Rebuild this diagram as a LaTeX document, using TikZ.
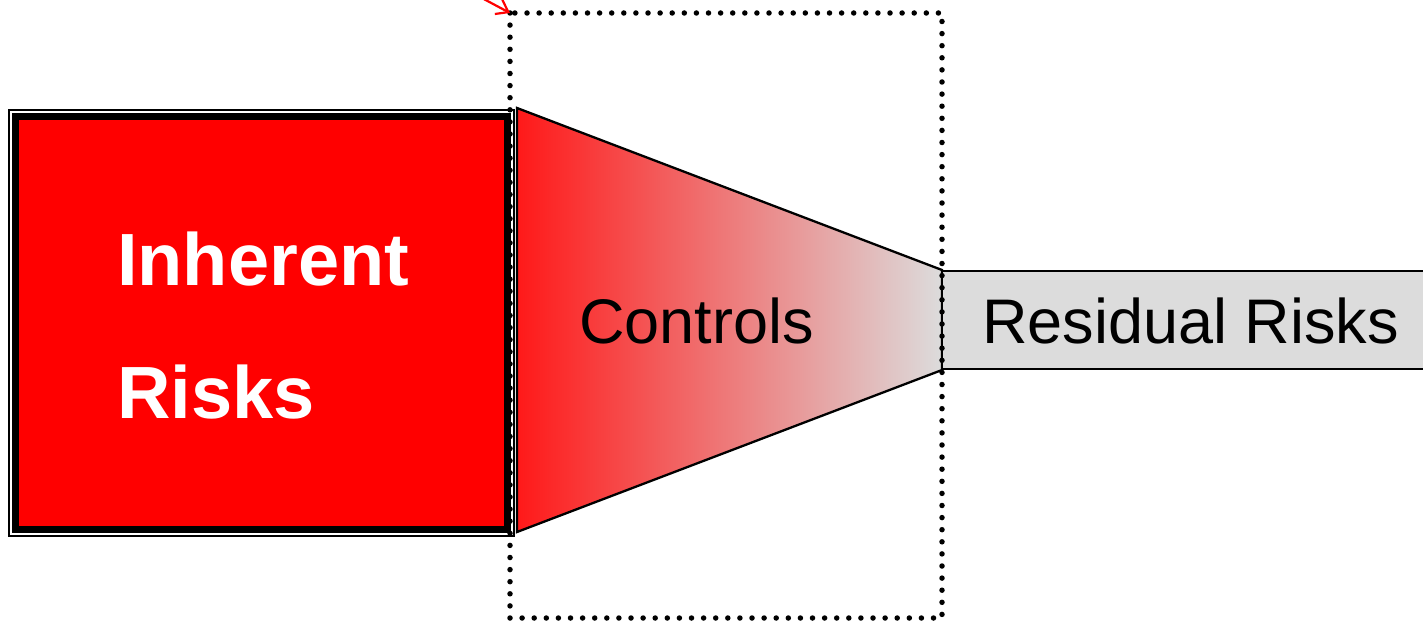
\documentclass[tikz,border=0pt]{standalone}
\usepackage{fontspec}
\setmainfont{Liberation Sans}
\usetikzlibrary{arrows.meta}
\definecolor{riskred}{RGB}{255,0,0}
\definecolor{shadered}{RGB}{255,25,25}
\definecolor{lightgr}{RGB}{220,220,220}
\tikzset{
  px/.style={x=1pt,y=-1pt},
  bigtext/.style={font=\fontsize{74}{133}\selectfont\bfseries, text=white, inner sep=0pt, anchor=base west},
  midtext/.style={font=\fontsize{63}{70}\selectfont, text=black, inner sep=0pt, anchor=base west},
  dotframe/.style={draw=black, line width=5.5pt, line cap=round, dash pattern=on 0pt off 12.1pt},
}
\begin{document}
\begin{tikzpicture}[px]
\useasboundingbox (0,0) rectangle (1423,623);
% inherent risks box
\draw[line width=1.5pt] (9,110) rectangle (514,536);
\draw[line width=7pt, fill=riskred] (15.5,116.5) rectangle (507.5,529.5);
\node[bigtext] (inh1) at (117,285) {Inherent};
\node[bigtext] (inh2) at (117,418) {Risks};
% controls trapezoid
\shade[left color=shadered, right color=lightgr] (517,108) -- (942,270) -- (942,370) -- (517,532) -- cycle;
\draw[line width=2.3pt, line join=miter] (517,108) -- (942,270) -- (942,370) -- (517,532) -- cycle;
\node[midtext] (ctl) at (579,343) {Controls};
% residual
\draw[line width=2.3pt, fill=lightgr] (942,271) rectangle (1440,369);
\node[midtext] (res) at (982,343) {Residual Risks};
% dotted frame
\coordinate (f1) at (510,13);
\coordinate (f2) at (942,618);
\draw[dotframe] (f1) rectangle (f2);
% red arrow
\coordinate (a0) at (480,-3);
\draw[red, line width=2.2pt, -{Straight Barb[length=11pt,width=16pt]}] (a0) -- (f1);
\end{tikzpicture}
\end{document}
